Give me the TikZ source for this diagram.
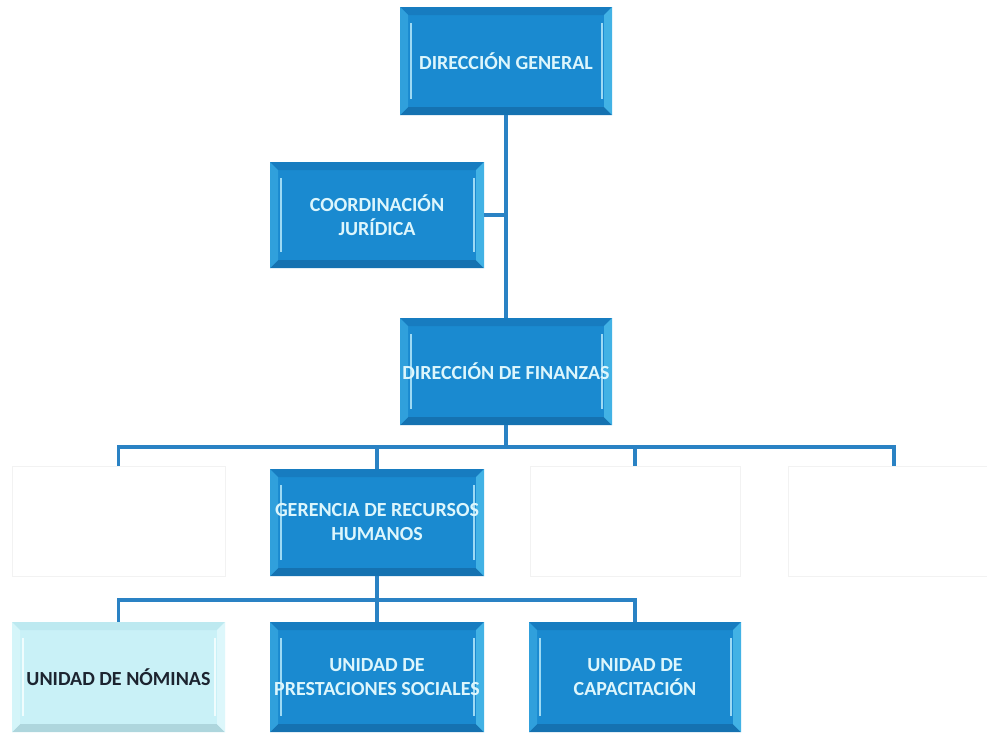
\documentclass[tikz,border=0pt]{standalone}
\usepackage{fontspec}
\setmainfont{Carlito}
\usetikzlibrary{calc}

\definecolor{boxblue}{HTML}{1A8AD0}
\definecolor{boxbluedark}{HTML}{177CC0}
\definecolor{bevellight}{HTML}{4CBCEA}
\definecolor{boxtext}{HTML}{DDF6FC}
\definecolor{palecyan}{HTML}{C9F1F7}
\definecolor{palebevel}{HTML}{E2F9FC}
\definecolor{paledark}{HTML}{BDE9F0}
\definecolor{darktext}{HTML}{1C2430}
\definecolor{linkblue}{HTML}{2A82C4}

\tikzset{
  bevel/.style n args={3}{
    path picture={
      \coordinate (pNW) at (path picture bounding box.north west);
      \coordinate (pNE) at (path picture bounding box.north east);
      \coordinate (pSW) at (path picture bounding box.south west);
      \coordinate (pSE) at (path picture bounding box.south east);
      % top and bottom bands
      \fill[#2] (pNW) -- (pNE) -- ([xshift=-8pt,yshift=-8pt]pNE) -- ([xshift=8pt,yshift=-8pt]pNW) -- cycle;
      \fill[#2!92!black] (pSW) -- (pSE) -- ([xshift=-8pt,yshift=8pt]pSE) -- ([xshift=8pt,yshift=8pt]pSW) -- cycle;
      % left and right bands
      \fill[#1!45!#3] (pNW) -- (pSW) -- ([xshift=8pt,yshift=8pt]pSW) -- ([xshift=8pt,yshift=-8pt]pNW) -- cycle;
      \fill[#1!80!#3] (pNE) -- (pSE) -- ([xshift=-8pt,yshift=8pt]pSE) -- ([xshift=-8pt,yshift=-8pt]pNE) -- cycle;
      % bright inner edges
      \draw[#1!55!white, line width=2pt]
        ([xshift=11pt,yshift=-16pt]pNW) -- ([xshift=11pt,yshift=16pt]pSW);
      \draw[#1!55!white, line width=1.6pt]
        ([xshift=-10pt,yshift=-16pt]pNE) -- ([xshift=-10pt,yshift=16pt]pSE);
    }},
  unit/.style={rectangle, inner sep=0pt, align=center,
    font=\fontsize{20}{24}\selectfont\bfseries},
  bluebox/.style={unit, fill=boxblue, text=boxtext,
    bevel={bevellight}{boxbluedark}{boxblue}},
  palebox/.style={unit, fill=palecyan, text=darktext,
    bevel={palebevel}{paledark}{palecyan}},
  blankbox/.style={rectangle, fill=white, draw=black!5, line width=0.8pt},
  link/.style={draw=linkblue, line width=3.2pt}
}

\begin{document}
\begin{tikzpicture}[x=1pt, y=-1pt]
  \useasboundingbox (0,0) rectangle (987,732);
  \clip (0,0) rectangle (987,732);
  \fill[white] (0,0) rectangle (987,732);

  % top levels
  \node[bluebox, minimum width=212pt, minimum height=108pt] (dg) at (506,61) {DIRECCIÓN GENERAL};
  \node[bluebox, minimum width=214pt, minimum height=106pt] (cj) at (377,215) {COORDINACIÓN\\JURÍDICA};
  \node[bluebox, minimum width=212pt, minimum height=107pt] (df) at (506,371.5) {DIRECCIÓN DE FINANZAS};

  % third level
  \node[blankbox, minimum width=213pt, minimum height=110pt] (e1) at (118.5,521) {};
  \node[bluebox, minimum width=214pt, minimum height=107pt] (grh) at (377,522.5) {GERENCIA DE RECURSOS\\HUMANOS};
  \node[blankbox, minimum width=210pt, minimum height=110pt] (e2) at (635,521) {};
  \node[blankbox, minimum width=212pt, minimum height=110pt] (e3) at (894,521) {};

  % fourth level
  \node[palebox, minimum width=213pt, minimum height=110pt] (un) at (118.5,677) {UNIDAD DE NÓMINAS};
  \node[bluebox, minimum width=214pt, minimum height=110pt] (ups) at (377,677) {UNIDAD DE\\PRESTACIONES SOCIALES};
  \node[bluebox, minimum width=212pt, minimum height=110pt] (uc) at (635,677) {UNIDAD DE\\CAPACITACIÓN};

  % connectors
  \coordinate (bar1) at (506,447);
  \coordinate (bar2) at (377,600);
  \draw[link] (dg.south) -- (df.north);
  \draw[link] (cj.east) -- (cj.east -| dg.south);
  \draw[link] (df.south) -- (bar1);
  \draw[link] (bar1) -| (e1.north);
  \draw[link] (bar1) -| (grh.north);
  \draw[link] (bar1) -| (e2.north);
  \draw[link] (bar1) -| (e3.north);
  \draw[link] (grh.south) -- (bar2);
  \draw[link] (bar2) -| (un.north);
  \draw[link] (bar2) -| (ups.north);
  \draw[link] (bar2) -| (uc.north);
\end{tikzpicture}
\end{document}
